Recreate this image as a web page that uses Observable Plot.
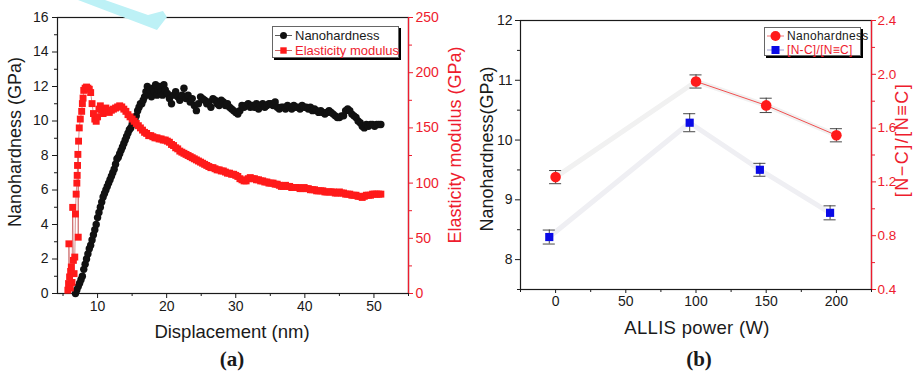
<!DOCTYPE html>
<html><head><meta charset="utf-8">
<script src="https://cdn.jsdelivr.net/npm/d3@7"></script>
<script src="https://cdn.jsdelivr.net/npm/@observablehq/plot@0.6"></script>
<style>
body{margin:0;background:#fff;font-family:'Liberation Sans',Arial,sans-serif;}
#root{position:relative;width:914px;height:374px;overflow:hidden;background:#fff;}
.layer{position:absolute;top:0;}
.lbl{position:absolute;white-space:nowrap;line-height:1;transform:translate(-50%,-50%);}
.rot{transform:translate(-50%,-50%) rotate(-90deg);}
.legend{position:absolute;background:#fff;border:1px solid #666;box-shadow:2px 2px 0 #000;box-sizing:border-box;}
.row{position:absolute;left:0;display:flex;align-items:center;white-space:nowrap;}
.row svg{display:block;}
</style></head><body><div id="root"></div>
<script>
// ---------- Panel (a) data: [displacement (nm), value] ----------
const hardness = [[6.8,0.0],[7.0,0.2],[7.2,0.4],[7.4,0.6],[7.6,0.8],[7.8,1.0],[8.0,1.4],[8.2,1.7],[8.4,2.0],[8.6,2.3],[8.8,2.6],[9.0,2.8],[9.2,3.1],[9.4,3.4],[9.6,3.7],[9.8,4.0],[10.0,4.4],[10.2,4.7],[10.4,5.0],[10.6,5.3],[10.8,5.6],[11.0,5.8],[11.2,6.0],[11.4,6.2],[11.6,6.4],[11.8,6.6],[12.0,6.8],[12.2,7.0],[12.4,7.2],[12.6,7.5],[12.8,7.8],[13.0,7.9],[13.2,8.1],[13.4,8.3],[13.6,8.5],[13.8,8.7],[14.0,8.9],[14.2,9.1],[14.4,9.3],[14.6,9.5],[14.8,9.6],[15.0,9.8],[15.2,9.9],[15.4,10.1],[15.6,10.3],[15.8,10.6],[16.0,10.8],[16.2,11.0],[16.4,11.0],[16.6,11.2],[16.8,11.4],[17.0,11.7],[17.2,12.0],[17.4,11.6],[17.6,11.8],[17.8,11.4],[18.0,11.9],[18.2,11.7],[18.4,12.1],[18.6,11.5],[18.8,11.8],[19.0,12.0],[19.2,11.7],[19.4,11.5],[19.6,12.1],[19.8,11.8],[20.1,11.6],[20.4,11.3],[20.7,11.0],[21.0,11.5],[21.3,11.7],[21.6,11.4],[21.9,11.2],[22.2,11.5],[22.5,11.9],[22.8,11.3],[23.1,11.5],[23.4,11.1],[23.7,11.3],[24.0,10.9],[24.3,10.6],[24.6,11.0],[24.9,11.4],[25.2,11.3],[25.5,11.2],[25.8,11.0],[26.1,11.1],[26.4,10.8],[26.7,11.3],[27.0,11.2],[27.3,11.0],[27.6,10.9],[27.9,11.2],[28.2,11.1],[28.5,10.9],[28.8,11.0],[29.1,10.8],[29.4,10.7],[29.7,10.6],[30.0,10.5],[30.3,10.4],[30.6,10.6],[30.9,10.9],[31.2,10.8],[31.5,10.9],[31.8,11.0],[32.1,10.8],[32.4,10.9],[32.7,10.8],[33.0,11.0],[33.3,10.7],[33.6,10.9],[33.9,11.0],[34.2,10.8],[34.5,10.9],[34.8,11.0],[35.1,11.0],[35.4,10.9],[35.7,11.1],[36.0,10.8],[36.3,10.7],[36.6,10.8],[36.9,10.8],[37.2,10.7],[37.5,10.9],[37.8,10.8],[38.1,10.7],[38.4,10.9],[38.7,10.8],[39.0,10.8],[39.3,10.7],[39.6,10.9],[39.9,10.8],[40.2,10.8],[40.5,10.7],[40.8,10.8],[41.1,10.6],[41.4,10.7],[41.7,10.6],[42.0,10.5],[42.3,10.6],[42.6,10.5],[42.9,10.4],[43.2,10.5],[43.5,10.6],[43.8,10.5],[44.1,10.4],[44.4,10.3],[44.7,10.2],[45.0,10.2],[45.3,10.3],[45.6,10.3],[45.9,10.6],[46.2,10.7],[46.5,10.6],[46.8,10.4],[47.1,10.3],[47.4,10.2],[47.7,10.0],[48.0,9.9],[48.3,9.7],[48.6,9.6],[48.9,9.8],[49.2,9.7],[49.5,9.8],[49.8,9.8],[50.1,9.7],[50.4,9.8],[50.7,9.8],[51.0,9.8]];
const modulus = [[5.7,3],[5.8,9],[5.85,45],[5.95,15],[6.05,5],[6.1,20],[6.2,24],[6.3,10],[6.4,78],[6.5,30],[6.6,18],[6.7,33],[6.8,72],[6.9,90],[7.0,100],[7.05,107],[7.1,116],[7.15,126],[7.2,51],[7.25,138],[7.35,150],[7.5,158],[7.7,165],[7.8,172],[7.9,177],[8.0,184],[8.2,186],[8.4,187],[8.6,186],[8.8,185],[9.0,182],[9.2,172],[9.4,163],[9.6,158],[9.8,156],[10.0,160],[10.2,167],[10.4,170],[10.6,166],[10.8,163],[11.0,165],[11.2,168],[11.4,166],[11.7,164],[12.0,166],[12.3,167],[12.6,168],[12.9,169],[13.2,170],[13.5,169],[13.8,167],[14.1,165],[14.4,162],[14.7,160],[15.0,158],[15.3,156],[15.6,154],[15.9,152],[16.2,150],[16.5,148],[16.8,146],[17.1,145],[17.4,143],[17.7,143],[18.0,142],[18.3,141],[18.6,141],[18.9,140],[19.2,140],[19.5,139],[19.8,139],[20.1,138],[20.4,137],[20.7,135],[21.0,134],[21.3,132],[21.6,131],[21.9,129],[22.2,128],[22.5,127],[22.8,126],[23.1,125],[23.4,124],[23.7,123],[24.0,122],[24.3,121],[24.6,120],[24.9,119],[25.2,118],[25.5,117],[25.8,116],[26.1,115],[26.4,114],[26.7,114],[27.0,113],[27.3,112],[27.6,112],[27.9,111],[28.2,111],[28.5,110],[28.8,109],[29.1,109],[29.4,108],[29.7,108],[30.0,107],[30.3,106],[30.6,104],[30.9,103],[31.2,102],[31.5,102],[31.8,104],[32.1,105],[32.4,104],[32.7,104],[33.0,103],[33.3,103],[33.6,102],[33.9,102],[34.2,101],[34.5,101],[34.8,100],[35.1,100],[35.4,100],[35.7,99],[36.0,99],[36.3,98],[36.6,97],[36.9,97],[37.2,98],[37.5,97],[37.8,97],[38.1,96],[38.4,96],[38.7,96],[39.0,96],[39.3,95],[39.6,95],[39.9,96],[40.2,95],[40.5,95],[40.8,94],[41.1,94],[41.4,94],[41.7,93],[42.0,93],[42.3,93],[42.6,93],[42.9,92],[43.2,92],[43.5,92],[43.8,92],[44.1,92],[44.4,91],[44.7,91],[45.0,92],[45.3,91],[45.6,91],[45.9,90],[46.2,90],[46.5,90],[46.8,89],[47.1,89],[47.4,89],[47.7,88],[48.0,88],[48.3,87],[48.6,88],[48.9,89],[49.2,89],[49.5,89],[49.8,90],[50.1,90],[50.4,90],[50.7,90],[51.0,90]];

const aXDomain = [4.2, 55];
const aYDomain = [0, 16];
const aRDomain = [0, 250];
const aXTicks = [10, 20, 30, 40, 50];
const aXMinor = [5, 15, 25, 35, 45, 55];
const aYTicks = [0, 2, 4, 6, 8, 10, 12, 14, 16];
const aYMinor = [1, 3, 5, 7, 9, 11, 13, 15];
const aRTicks = [0, 50, 100, 150, 200, 250];
const aRMinor = [25, 75, 125, 175, 225];

// ---------- Panel (b) data ----------
const bPower = [0, 100, 150, 200];
const bHard = [9.38, 10.98, 10.58, 10.08];
const bHardErr = [0.11, 0.11, 0.12, 0.11];
const bRatioPower = [-4.5, 95.5, 145.5, 195.5];
const bRatio = [0.79, 1.64, 1.29, 0.97];
const bRatioErr = [0.052, 0.067, 0.048, 0.052];

const bXDomain = [-25, 225];
const bYDomain = [7.5, 12];
const bRDomain = [0.4, 2.4];
const bXTicks = [0, 50, 100, 150, 200];
const bXMinor = [-25, 25, 75, 125, 175, 225];
const bYTicks = [8, 9, 10, 11, 12];
const bYMinor = [7.5, 8.5, 9.5, 10.5, 11.5];
const bRTicks = [0.4, 0.8, 1.2, 1.6, 2.0, 2.4];
const bRMinor = [0.6, 1.0, 1.4, 1.8, 2.2];

const RED = "#ff1a1a";
const AXRED = "#ee1c2e";
const BLUE = "#0a0ae6";
const INK = "#1a1a1a";
const FONT = "'Liberation Sans', Arial, sans-serif";

const root = document.getElementById("root");
const baseStyle = {fontFamily: FONT, fontSize: "14px", background: "transparent", color: INK, overflow: "visible"};

function place(el, left) {
  el.classList.add("layer");
  el.style.left = left + "px";
  root.appendChild(el);
}

const hardRows = hardness.map(([d, v]) => ({d, v}));
const modRows = modulus.map(([d, v]) => ({d, v}));

// Panel (a) — left scale: nanohardness
const dimsA = {width: 460, height: 320, marginLeft: 57, marginRight: 52, marginTop: 17, marginBottom: 27};
place(Plot.plot({
  ...dimsA,
  style: baseStyle,
  x: {domain: aXDomain},
  y: {domain: aYDomain},
  marks: [
    Plot.frame({stroke: INK, strokeWidth: 1.2}),
    Plot.axisX(aXTicks, {tickSize: 5, tickPadding: 3, label: null, fontSize: 14, color: INK, tickFormat: d3.format("d")}),
    Plot.axisX(aXMinor, {tickSize: 3, fill: "none", label: null, color: INK}),
    Plot.axisY(aYTicks, {tickSize: 5, tickPadding: 4, label: null, fontSize: 14, color: INK, tickFormat: d3.format("d")}),
    Plot.axisY(aYMinor, {tickSize: 3, fill: "none", label: null, color: INK}),
    Plot.line(hardRows, {x: "d", y: "v", stroke: INK, strokeWidth: 0.7}),
    Plot.dot(hardRows, {x: "d", y: "v", r: 3.7, fill: "#111", stroke: "none"})
  ]
}), 0);

// Panel (a) — right scale: elasticity modulus
place(Plot.plot({
  ...dimsA,
  style: baseStyle,
  x: {domain: aXDomain, axis: null},
  y: {domain: aRDomain},
  marks: [
    Plot.ruleX([aXDomain[1]], {stroke: AXRED, strokeWidth: 1.3}),
    Plot.axisY(aRTicks, {anchor: "right", tickSize: 4, tickPadding: 3, label: null, fontSize: 14, color: AXRED, tickFormat: d3.format("d")}),
    Plot.axisY(aRMinor, {anchor: "right", tickSize: 3, fill: "none", label: null, color: AXRED}),
    Plot.line(modRows, {x: "d", y: "v", stroke: "#c04040", strokeWidth: 0.6}),
    Plot.dot(modRows, {x: "d", y: "v", symbol: "square", r: 3.9, fill: RED, stroke: "none"})
  ]
}), 0);

// Panel (b)
const hardB = bPower.map((p, i) => ({p, v: bHard[i], e: bHardErr[i]}));
const ratioB = bRatioPower.map((p, i) => ({p, v: bRatio[i], e: bRatioErr[i]}));
const cap = 4.3;
const dimsB = {width: 454, height: 320, marginLeft: 60, marginRight: 43, marginTop: 20, marginBottom: 31};

place(Plot.plot({
  ...dimsB,
  style: baseStyle,
  x: {domain: bXDomain},
  y: {domain: bYDomain},
  marks: [
    Plot.frame({stroke: INK, strokeWidth: 1.2}),
    Plot.axisX(bXTicks, {tickSize: 4, tickPadding: 3, label: null, fontSize: 14, color: INK, tickFormat: d3.format("d")}),
    Plot.axisX(bXMinor, {tickSize: 3, fill: "none", label: null, color: INK}),
    Plot.axisY(bYTicks, {tickSize: 5, tickPadding: 3, label: null, fontSize: 14, color: INK, tickFormat: d3.format("d")}),
    Plot.axisY(bYMinor, {tickSize: 3, fill: "none", label: null, color: INK}),
    Plot.line(hardB, {x: "p", y: "v", stroke: "#f1f1f1", strokeWidth: 5}),
    Plot.line(hardB.filter(d => d.p >= 100), {x: "p", y: "v", stroke: "#f05050", strokeWidth: 1}),
    Plot.ruleX(hardB, {x: "p", y1: d => d.v - d.e, y2: d => d.v + d.e, stroke: "#333", strokeWidth: 0.9}),
    Plot.ruleY(hardB, {y: d => d.v + d.e, x1: d => d.p - cap, x2: d => d.p + cap, stroke: "#333", strokeWidth: 0.9}),
    Plot.ruleY(hardB, {y: d => d.v - d.e, x1: d => d.p - cap, x2: d => d.p + cap, stroke: "#333", strokeWidth: 0.9}),
    Plot.dot(hardB, {x: "p", y: "v", r: 5.3, fill: RED, stroke: "none"})
  ]
}), 460);

place(Plot.plot({
  ...dimsB,
  style: baseStyle,
  x: {domain: bXDomain, axis: null},
  y: {domain: bRDomain},
  marks: [
    Plot.ruleX([bXDomain[1]], {stroke: AXRED, strokeWidth: 1.3}),
    Plot.axisY(bRTicks, {anchor: "right", tickSize: 4, tickPadding: 2, label: null, fontSize: 13.5, color: AXRED, tickFormat: d3.format(".1f")}),
    Plot.axisY(bRMinor, {anchor: "right", tickSize: 3, fill: "none", label: null, color: AXRED}),
    Plot.line(ratioB, {x: "p", y: "v", stroke: "#efeff3", strokeWidth: 5}),
    Plot.ruleX(ratioB, {x: "p", y1: d => d.v - d.e, y2: d => d.v + d.e, stroke: "#333", strokeWidth: 0.9}),
    Plot.ruleY(ratioB, {y: d => d.v + d.e, x1: d => d.p - cap, x2: d => d.p + cap, stroke: "#333", strokeWidth: 0.9}),
    Plot.ruleY(ratioB, {y: d => d.v - d.e, x1: d => d.p - cap, x2: d => d.p + cap, stroke: "#333", strokeWidth: 0.9}),
    Plot.dot(ratioB, {x: "p", y: "v", symbol: "square", r: 4.6, fill: BLUE, stroke: "none"})
  ]
}), 460);

// ---------- Text ----------
function label(text, x, y, {size = 18, color = INK, rotate = false, bold = false, family = FONT, spacing = 0} = {}) {
  const el = document.createElement("div");
  el.className = "lbl" + (rotate ? " rot" : "");
  el.textContent = text;
  Object.assign(el.style, {left: x + "px", top: y + "px", fontSize: size + "px", color, fontFamily: family,
    fontWeight: bold ? "bold" : "normal", letterSpacing: spacing + "px"});
  root.appendChild(el);
}
label("Nanohardness (GPa)", 15, 142, {rotate: true});
label("Displacement (nm)", 232, 332, {size: 18.5});
label("Elasticity modulus (GPa)", 455, 145, {rotate: true, color: AXRED});
label("(a)", 232, 359, {size: 21, bold: true, family: "'Liberation Serif', 'Times New Roman', serif"});
label("Nanohardness(GPa)", 487, 149, {rotate: true});
label("ALLIS power (W)", 697, 328, {size: 18.5, spacing: 0.3});
label("[N\u2212C]/[N\u2261C]", 902, 140, {rotate: true, color: AXRED, size: 18, spacing: 1.5});
label("(b)", 699, 359, {size: 21, bold: true, family: "'Liberation Serif', 'Times New Roman', serif"});

// ---------- Legends ----------
function legend(left, top, w, h, rowH, fontSize, items) {
  const box = document.createElement("div");
  box.className = "legend";
  Object.assign(box.style, {left: left + "px", top: top + "px", width: w + "px", height: h + "px"});
  items.forEach((it, i) => {
    const row = document.createElement("div");
    row.className = "row";
    Object.assign(row.style, {top: (1 + i * rowH) + "px", height: rowH + "px"});
    const mk = it.shape === "circle"
      ? `<circle cx="10.5" cy="${rowH / 2}" r="${it.size}" fill="${it.fill}"/>`
      : `<rect x="${10.5 - it.size}" y="${rowH / 2 - it.size}" width="${2 * it.size}" height="${2 * it.size}" fill="${it.fill}"/>`;
    row.innerHTML = `<svg width="21" height="${rowH}"><line x1="2" x2="19" y1="${rowH / 2}" y2="${rowH / 2}" stroke="${it.line}" stroke-width="0.8"/>${mk}</svg>`;
    const t = document.createElement("span");
    t.textContent = it.text;
    Object.assign(t.style, {fontSize: fontSize + "px", color: it.color, fontFamily: FONT, marginLeft: "1px", letterSpacing: it.spacing || "0px"});
    row.appendChild(t);
    box.appendChild(row);
  });
  root.appendChild(box);
}
legend(272, 26, 127, 32, 15, 13, [
  {text: "Nanohardness", color: INK, shape: "circle", size: 3.5, fill: "#111", line: "#333"},
  {text: "Elasticity modulus", color: AXRED, shape: "square", size: 3.2, fill: RED, line: "#c04040"}
]);
legend(764, 27, 97, 29, 14, 12, [
  {text: "Nanohardness", color: INK, shape: "circle", size: 5, fill: RED, line: "#f05050", spacing: "0.3px"},
  {text: "[N-C]/[N\u2261C]", color: AXRED, shape: "square", size: 4, fill: BLUE, line: "#8888cc", spacing: "0.3px"}
]);

// faint watermark fragment at top-left of panel (a)
const wm = document.createElement("div");
Object.assign(wm.style, {position: "absolute", left: "75px", top: "0px", width: "95px", height: "32px", background: "#bdf1f6",
  clipPath: "polygon(3px 0, 30px 0, 73px 15px, 88px 11px, 92px 17px, 82px 30px)"});
root.appendChild(wm);
</script></body></html>
